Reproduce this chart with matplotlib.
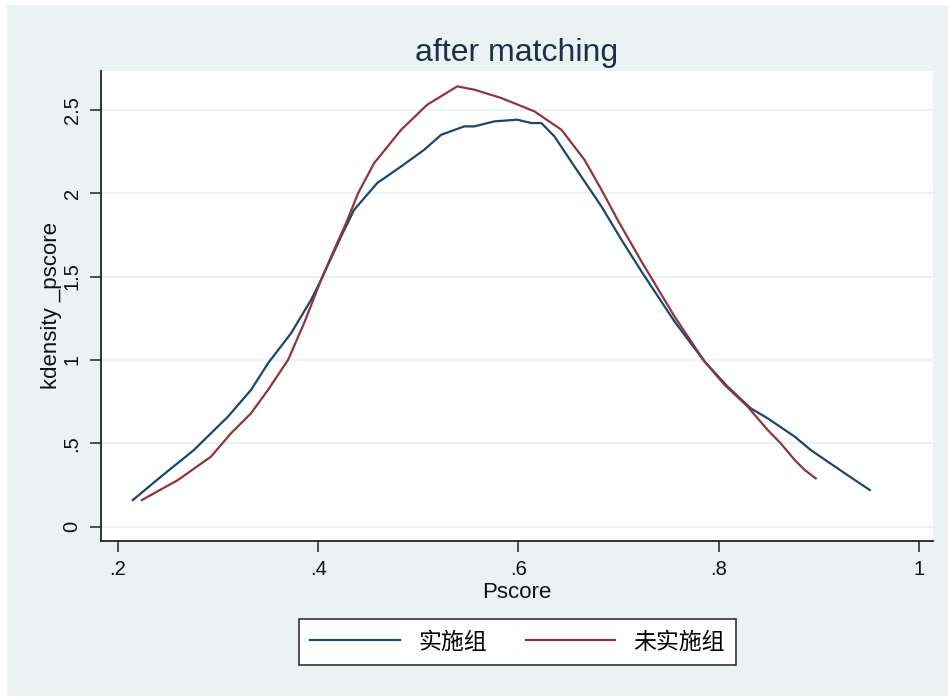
import matplotlib
matplotlib.use('Agg')
import matplotlib.pyplot as plt
from matplotlib.patches import Rectangle

# kernel density of propensity score, treated vs control, after matching
treat_x = [0.215, 0.243, 0.276, 0.310, 0.333, 0.350, 0.373, 0.393, 0.403, 0.423,
           0.436, 0.459, 0.483, 0.506, 0.523, 0.546, 0.556, 0.576, 0.599, 0.613,
           0.623, 0.636, 0.656, 0.683, 0.703, 0.723, 0.756, 0.786, 0.809, 0.832,
           0.849, 0.876, 0.892, 0.909, 0.936, 0.951]
treat_y = [0.16, 0.30, 0.46, 0.66, 0.82, 0.98, 1.16, 1.36, 1.48, 1.74,
           1.90, 2.06, 2.16, 2.26, 2.35, 2.40, 2.40, 2.43, 2.44, 2.42,
           2.42, 2.34, 2.16, 1.92, 1.72, 1.53, 1.23, 0.99, 0.84, 0.71,
           0.65, 0.54, 0.46, 0.39, 0.28, 0.22]

ctrl_x = [0.224, 0.260, 0.293, 0.313, 0.333, 0.350, 0.370, 0.386, 0.403, 0.416,
          0.428, 0.440, 0.456, 0.483, 0.509, 0.539, 0.556, 0.583, 0.616, 0.643,
          0.666, 0.683, 0.700, 0.723, 0.756, 0.786, 0.806, 0.829, 0.849, 0.862,
          0.876, 0.886, 0.897]
ctrl_y = [0.16, 0.28, 0.42, 0.56, 0.68, 0.82, 1.00, 1.22, 1.48, 1.66,
          1.82, 2.00, 2.18, 2.38, 2.53, 2.64, 2.62, 2.57, 2.49, 2.38,
          2.20, 2.02, 1.83, 1.59, 1.26, 0.99, 0.85, 0.72, 0.58, 0.50,
          0.40, 0.34, 0.29]

labels = ['实施组', '未实施组']
xticks = [0.2, 0.4, 0.6, 0.8, 1.0]
xtick_labels = ['.2', '.4', '.6', '.8', '1']
yticks = [0, 0.5, 1, 1.5, 2, 2.5]
ytick_labels = ['0', '.5', '1', '1.5', '2', '2.5']

bg = '#EAF2F3'
plt.rcParams['font.family'] = ['Liberation Sans', 'Noto Sans CJK SC', 'DejaVu Sans']

fig = plt.figure(figsize=(9.48, 6.96), dpi=100, facecolor='white')
fig.patches.append(Rectangle((7 / 948, 0), 1, 1 - 5 / 696, transform=fig.transFigure,
                             facecolor=bg, edgecolor='none', zorder=-10))

ax = fig.add_axes([101 / 948, 1 - 541 / 696, 832 / 948, 470 / 696])
ax.set_facecolor('white')

ax.plot(treat_x, treat_y, color='#1A476F', lw=1.6, label=labels[0])
ax.plot(ctrl_x, ctrl_y, color='#90353B', lw=1.6, label=labels[1])

ax.set_xlim(0.1832, 1.0141)
ax.set_ylim(-0.0855, 2.732)
ax.set_xticks(xticks)
ax.set_xticklabels(xtick_labels)
ax.set_yticks(yticks)
ax.set_yticklabels(ytick_labels, rotation=90, va='center')

ax.grid(axis='y', color=bg, lw=1.6)
ax.set_axisbelow(True)
for side in ('top', 'right'):
    ax.spines[side].set_visible(False)
for side in ('left', 'bottom'):
    ax.spines[side].set_color('#222222')
    ax.spines[side].set_linewidth(1.3)
ax.tick_params(direction='out', length=8, width=1.1, color='#222222',
               labelsize=14.5, labelcolor='#111111', pad=6)

ax.set_xlabel('Pscore', fontsize=16, color='#111111', labelpad=2)
ax.set_ylabel('kdensity _pscore', fontsize=16, color='#111111', labelpad=0.5)
ax.set_title('after matching', fontsize=23, color='#1E2F4A', pad=7)

leg = fig.legend(loc='center', bbox_to_anchor=(517.5 / 948, 1 - 642 / 696),
                 ncol=2, fontsize=16.5, handlelength=3.9, columnspacing=1.7,
                 handletextpad=0.8, fancybox=False, framealpha=1,
                 edgecolor='#333333', borderpad=0.5)
leg.get_frame().set_linewidth(1.2)

fig.savefig('out.png', dpi=100, facecolor=fig.get_facecolor())
